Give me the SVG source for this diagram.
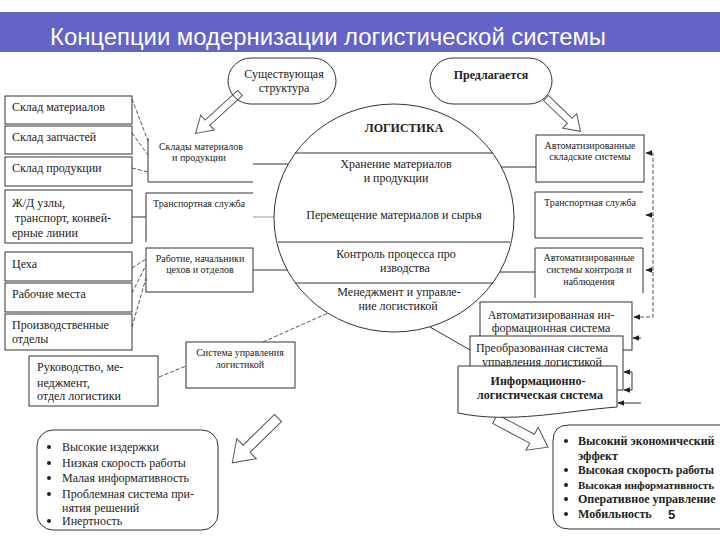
<svg xmlns="http://www.w3.org/2000/svg" width="720" height="540" viewBox="0 0 720 540">
<defs>
<style>
.t{font-family:"Liberation Serif","Times New Roman",serif;fill:#222;font-size:12px}
.s10{font-size:10px}
.b{font-weight:bold}
.m{text-anchor:middle}
.box{fill:none;stroke:#333;stroke-width:1}
.wbox{fill:#fff;stroke:#333;stroke-width:1}
.ln{fill:none;stroke:#333;stroke-width:1}
.dl{fill:none;stroke:#444;stroke-width:0.9;stroke-dasharray:4 2}
.ha{fill:#fff;stroke:#555;stroke-width:1}
</style>
<marker id="ah" viewBox="0 0 10 10" refX="9" refY="5" markerWidth="7" markerHeight="7" orient="auto-start-reverse" markerUnits="userSpaceOnUse">
<path d="M0,1 L10,5 L0,9 Z" fill="#222"/>
</marker>
</defs>
<rect width="720" height="540" fill="#fff"/>
<g id="title">
<rect x="0" y="12" width="720" height="40" fill="#6464c8"/>
<text x="50" y="45" font-family="Liberation Sans, Arial, sans-serif" font-size="24" fill="#fff" textLength="556" lengthAdjust="spacingAndGlyphs">Концепции модернизации логистической системы</text>
</g>
<g id="connectors">
<path class="dl" d="M132,99 L148,141 M132,133 L148,155 M132,168 L148,172"/>
<path class="ln" d="M132,217 H146"/>
<path class="dl" d="M132,268 L146,259 M132,293 L146,265 M132,327 L146,278"/>
<path class="dl" d="M159,377 L186,366"/>
<path class="ln" d="M253,164 H288"/>
<path d="M253,217 H274" stroke="#999" stroke-width="1" fill="none"/>
<path class="ln" d="M253,270 H287"/>
<path class="dl" d="M263,342 L328,313"/>
<path class="ln" d="M430,327 L470,350"/>
<path class="ln" d="M501,167 H536"/>
<path class="ln" d="M500,272 H535"/>
<path class="dl" d="M646,153 H653 V317 H634" marker-start="url(#ah)" marker-end="url(#ah)"/>
<path class="ln" d="M653,215 H646" marker-end="url(#ah)"/>
<path class="ln" d="M653,270 H646" marker-end="url(#ah)"/>
<path class="ln" d="M641,338 H633" marker-end="url(#ah)"/>
<path class="ln" d="M624,372 H632 V390 H624" marker-start="url(#ah)" marker-end="url(#ah)"/>
<path class="ln" d="M641,403 H618" marker-end="url(#ah)"/>
<path class="ha" transform="translate(240,93) rotate(137.7)" d="M0,-3.5 H44 V-10 L60,0 L44,10 V3.5 H0 Z"/>
<path class="ha" transform="translate(546,98) rotate(44)" d="M0,-3.5 H33 V-10 L48,0 L33,10 V3.5 H0 Z"/>
<path class="ha" transform="translate(278,418) rotate(135.6)" d="M0,-5 H44 V-14 L64,0 L44,14 V5 H0 Z"/>
<path class="ha" transform="translate(495,419) rotate(28)" d="M0,-5 H42 V-13 L60,0 L42,13 V5 H0 Z"/>
</g>
<g id="existing">
<rect class="box" x="228" y="58" width="108" height="46" rx="23"/>
<text class="t m" x="284" y="78">Существующая</text>
<text class="t m" x="284" y="92">структура</text>
</g>
<g id="proposed">
<rect class="box" x="430" y="58" width="122" height="46" rx="23"/>
<text class="t m b" x="491" y="79">Предлагается</text>
</g>
<g id="logistics">
<ellipse class="box" cx="394" cy="218" rx="120" ry="114"/>
<path class="ln" d="M295,153 H493 M278,242 H510 M295,283 H493"/>
<text class="t m b" x="404" y="132">ЛОГИСТИКА</text>
<text class="t m" x="396" y="168">Хранение материалов</text>
<text class="t m" x="396" y="182">и продукции</text>
<text class="t m" x="394" y="219">Перемещение материалов и сырья</text>
<text class="t m" x="396" y="258">Контроль процесса про</text>
<text class="t m" x="405" y="272">изводства</text>
<text class="t m" x="399" y="296">Менеджмент и управле-</text>
<text class="t m" x="398" y="310">ние логистикой</text>
</g>
<g id="sklad-mat"><rect class="box" x="5" y="96" width="127" height="28"/><text class="t" x="12" y="111">Склад материалов</text></g>
<g id="sklad-zap"><rect class="box" x="5" y="126" width="127" height="28"/><text class="t" x="12" y="141">Склад запчастей</text></g>
<g id="sklad-prod"><rect class="box" x="5" y="157" width="127" height="29"/><text class="t" x="12" y="172">Склад продукции</text></g>
<g id="zhd"><rect class="box" x="5" y="190" width="127" height="53"/>
<text class="t" x="12" y="207">Ж/Д узлы,</text><text class="t" x="15" y="222">транспорт, конвей-</text><text class="t" x="12" y="237">ерные линии</text></g>
<g id="tseha"><rect class="box" x="5" y="252" width="127" height="29"/><text class="t" x="12" y="268">Цеха</text></g>
<g id="rab-mesta"><rect class="box" x="5" y="283" width="127" height="29"/><text class="t" x="12" y="298">Рабочие места</text></g>
<g id="proizv"><rect class="box" x="5" y="314" width="127" height="36"/><text class="t" x="12" y="329">Производственные</text><text class="t" x="12" y="343">отделы</text></g>
<g id="rukovod"><rect class="box" x="29" y="356" width="129" height="50"/>
<text class="t" x="37" y="371">Руководство, ме-</text><text class="t" x="37" y="387">неджмент,</text><text class="t" x="37" y="400">отдел логистики</text></g>
<g id="sklady"><path class="ln" d="M148,138 V182 H253"/>
<text class="t s10 m" x="201" y="150">Склады материалов</text><text class="t s10 m" x="199" y="161">и продукции</text></g>
<g id="transp-l"><path class="ln" d="M253,193 H146 V242"/><text class="t s10" x="153" y="207">Транспортная служба</text></g>
<g id="rabotie"><rect class="box" x="146" y="248" width="107" height="44"/>
<text class="t s10 m" x="200" y="262">Работие, начальники</text><text class="t s10 m" x="200" y="273">цехов и отделов</text></g>
<g id="sistema-upr"><rect class="box" x="186" y="342" width="109" height="46"/>
<text class="t s10 m" x="240" y="356">Система управления</text><text class="t s10 m" x="240" y="368">логистикой</text></g>
<g id="avt-sklad"><rect class="box" x="536" y="135" width="108" height="47"/>
<text class="t s10 m" x="590" y="149">Автоматизированные</text><text class="t s10 m" x="590" y="160">складские системы</text></g>
<g id="transp-r"><path class="ln" d="M643,192 H535 V238 H643"/><text class="t s10 m" x="590" y="206">Транспортная служба</text></g>
<g id="avt-kontrol"><path class="ln" d="M535,298 V248 H643 V293"/>
<text class="t s10 m" x="589" y="261">Автоматизированные</text><text class="t s10 m" x="589" y="273">системы контроля и</text><text class="t s10 m" x="589" y="285">наблюдения</text></g>
<g id="avt-info"><rect class="wbox" x="480" y="302" width="152" height="48"/>
<text class="t m" x="551" y="319">Автоматизированная ин-</text><text class="t m" x="551" y="332">формационная система</text></g>
<g id="preobr"><rect class="wbox" x="470" y="336" width="153" height="54"/>
<text class="t m" x="542" y="352">Преобразованная система</text><text class="t m" x="542" y="366">управления логистикой</text></g>
<g id="info-log"><path class="wbox" d="M458,366 H617 V407 C565,411 510,424 458,413 Z"/>
<text class="t m b" x="538" y="385">Информационно-</text><text class="t m b" x="540" y="399">логистическая система</text></g>
<g id="minus">
<rect class="box" x="37" y="430" width="181" height="100" rx="16"/>
<g fill="#222"><circle cx="49" cy="447" r="2"/><circle cx="49" cy="463" r="2"/><circle cx="49" cy="478" r="2"/><circle cx="49" cy="494" r="2"/><circle cx="49" cy="521" r="2"/></g>
<text class="t" x="62" y="451">Высокие издержки</text>
<text class="t" x="62" y="467">Низкая скорость работы</text>
<text class="t" x="62" y="482">Малая информативность</text>
<text class="t" x="62" y="498">Проблемная система при-</text>
<text class="t" x="62" y="512">нятия решений</text>
<text class="t" x="62" y="525">Инертность</text>
</g>
<g id="plus">
<path class="box" d="M720,425 H569 Q553,425 553,441 V513 Q553,529 569,529 H720"/>
<g fill="#222"><circle cx="566" cy="441" r="2"/><circle cx="566" cy="470" r="2"/><circle cx="566" cy="485" r="2"/><circle cx="566" cy="499" r="2"/><circle cx="566" cy="514" r="2"/></g>
<text class="t b" x="578" y="445">Высокий экономический</text>
<text class="t b" x="578" y="460">эффект</text>
<text class="t b" x="578" y="474" textLength="136" lengthAdjust="spacingAndGlyphs">Высокая скорость работы</text>
<text class="t b" x="578" y="489" font-size="11" textLength="136" lengthAdjust="spacingAndGlyphs" style="font-size:11px">Высокая информативность</text>
<text class="t b" x="578" y="503">Оперативное управление</text>
<text class="t b" x="578" y="518">Мобильность</text>
<text x="668" y="519" font-family="Liberation Sans, Arial, sans-serif" font-size="13" font-weight="bold" fill="#222">5</text>
</g>
</svg>
